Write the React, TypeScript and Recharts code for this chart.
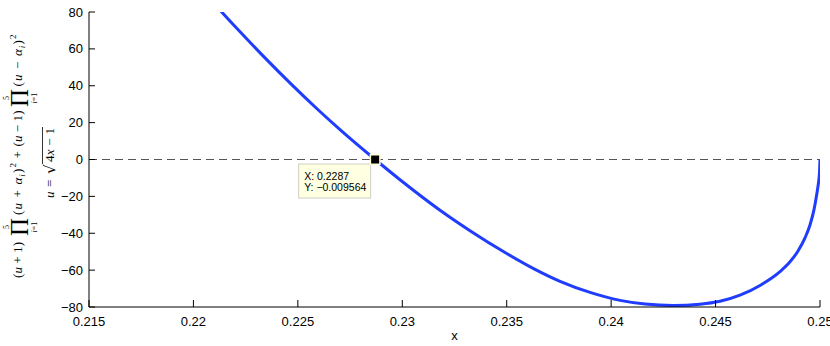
import React from 'react';
import { LineChart, Line, XAxis, YAxis, ReferenceLine, ReferenceDot, Label } from 'recharts';

const xValues = [0.220875, 0.221354, 0.222311, 0.223508, 0.224705, 0.225902, 0.227099, 0.2287, 0.229891, 0.231806, 0.233242, 0.235, 0.236355, 0.237552, 0.238988, 0.240425, 0.241622, 0.242963, 0.244254, 0.245212, 0.24617, 0.247127, 0.248085, 0.248564, 0.248947, 0.249282, 0.249521, 0.249713, 0.249856, 0.249928, 0.249976, 0.25];
const yValues = [86.2, 80, 68.35, 54.15, 40.59, 27.67, 15.38, -0.009564, -10.96, -27.5, -38.6, -51.0, -59.6, -66.1, -72.1, -76.4, -78.4, -79.2, -78.5, -76.9, -73.6, -68.3, -60.8, -55.5, -49.6, -42.5, -35.5, -27.2, -18, -12.5, -7, 0];
const xTicks = [0.215, 0.22, 0.225, 0.23, 0.235, 0.24, 0.245, 0.25];
const yTicks = [-80, -60, -40, -20, 0, 20, 40, 60, 80];
const tipX = 0.2287;
const tipY = -0.009564;
const xLabel = 'x';

const data = xValues.map((x, i) => ({ x, y: yValues[i] }));

const fmt = (v: number) => (v < 0 ? '\u2212' + String(-v) : String(v));

const SANS = 'Liberation Sans, Arial, Helvetica, sans-serif';
const SERIF = 'Liberation Serif, DejaVu Serif, Times New Roman, serif';

const Prod = ({ cx }: { cx: number }) => (
  <g>
    <text x={cx} y={6} fontSize={25} fontFamily={SERIF} textAnchor="middle">{'\u03A0'}</text>
    <text x={cx} y={-13.5} fontSize={8} fontFamily={SERIF} textAnchor="middle">5</text>
    <text x={cx} y={15} fontSize={8} fontFamily={SERIF} textAnchor="middle">
      <tspan fontStyle="italic">i</tspan>
      <tspan>=1</tspan>
    </text>
  </g>
);

const Factor = ({ x, sign }: { x: number; sign: string }) => (
  <text x={x} y={0} fontSize={13} fontFamily={SERIF} textLength={52} lengthAdjust="spacing">
    <tspan>(</tspan>
    <tspan fontStyle="italic">u</tspan>
    <tspan>{` ${sign} `}</tspan>
    <tspan fontStyle="italic">{'\u03B1'}</tspan>
    <tspan fontStyle="italic" fontSize={9} dy={3}>i</tspan>
    <tspan dy={-3}>)</tspan>
    <tspan fontSize={9} dy={-6}>2</tspan>
  </text>
);

const Linear = ({ x, sign }: { x: number; sign: string }) => (
  <text x={x} y={0} fontSize={13} fontFamily={SERIF} textLength={36} lengthAdjust="spacing">
    <tspan>(</tspan>
    <tspan fontStyle="italic">u</tspan>
    <tspan>{` ${sign} 1)`}</tspan>
  </text>
);

const YLabel = () => (
  <g fill="#000">
    <g transform="translate(22,159.5) rotate(-90)">
      <Linear x={-118.5} sign="+" />
      <Prod cx={-67.5} />
      <Factor x={-55.5} sign="+" />
      <text x={1} y={0} fontSize={13} fontFamily={SERIF}>+</text>
      <Linear x={13} sign={'\u2212'} />
      <Prod cx={61.5} />
      <Factor x={73} sign={'\u2212'} />
    </g>
    <g transform="translate(54,162) rotate(-90)">
      <text x={-36} y={0} fontSize={13} fontFamily={SERIF} fontStyle="italic">u</text>
      <text x={-25} y={0} fontSize={13} fontFamily={SERIF}>=</text>
      <text x={-12} y={1} fontSize={15} fontFamily="DejaVu Serif, serif">{'\u221A'}</text>
      <text x={0} y={0} fontSize={13} fontFamily={SERIF} textLength={34} lengthAdjust="spacing">
        <tspan>4</tspan>
        <tspan fontStyle="italic">x</tspan>
        <tspan>{' \u2212 1'}</tspan>
      </text>
      <line x1={-2} y1={-11.5} x2={35} y2={-11.5} stroke="#000" strokeWidth={0.8} />
    </g>
  </g>
);

const TipShape = (props: any) => {
  const { cx, cy } = props;
  if (cx == null || cy == null) return <g />;
  return (
    <g>
      <rect x={cx - 76.5} y={cy + 4.5} width={72} height={34} fill="#ffffe1" stroke="#cfcfc4" strokeWidth={1} />
      <text x={cx - 71} y={cy + 20} fontSize={10.5} fontFamily={SANS} fill="#000">{`X: ${tipX}`}</text>
      <text x={cx - 71} y={cy + 31.5} fontSize={10.5} fontFamily={SANS} fill="#000">{`Y: ${fmt(tipY)}`}</text>
      <rect x={cx - 5.5} y={cy - 5.5} width={11} height={11} fill="#ffffd8" />
      <rect x={cx - 4} y={cy - 4} width={8} height={8} fill="#000" />
    </g>
  );
};

const tickStyle = { fontSize: 13, fontFamily: SANS, fill: '#000' };

export default function App() {
  return (
    <div style={{ position: 'absolute', left: 0, top: 0, width: 830, height: 346, background: '#fff' }}>
      <LineChart width={830} height={346} data={data} margin={{ top: 12, right: 10, left: 0, bottom: 0 }}>
        <XAxis
          xAxisId="bottom"
          dataKey="x"
          type="number"
          domain={[0.215, 0.25]}
          ticks={xTicks}
          interval={0}
          allowDataOverflow
          height={39}
          tickSize={-7}
          tickMargin={17}
          tick={tickStyle}
          tickFormatter={(v: number) => String(v)}
          axisLine={{ stroke: '#000' }}
          tickLine={{ stroke: '#000' }}
        >
          <Label value={xLabel} position="insideBottom" offset={6.5} style={{ fontSize: 13, fontFamily: SANS, fill: '#000' }} />
        </XAxis>
        <XAxis
          xAxisId="top"
          orientation="top"
          dataKey="x"
          type="number"
          domain={[0.215, 0.25]}
          ticks={xTicks}
          interval={0}
          allowDataOverflow
          height={0}
          tickSize={-7}
          tick={false}
          axisLine={{ stroke: '#000' }}
          tickLine={{ stroke: '#000' }}
        />
        <YAxis
          yAxisId="left"
          type="number"
          domain={[-80, 80]}
          ticks={yTicks}
          interval={0}
          allowDataOverflow
          width={89}
          tickSize={-6}
          tickMargin={12}
          tick={tickStyle}
          tickFormatter={fmt}
          axisLine={{ stroke: '#000' }}
          tickLine={{ stroke: '#000' }}
        >
          <Label content={() => <YLabel />} />
        </YAxis>
        <YAxis
          yAxisId="right"
          orientation="right"
          type="number"
          domain={[-80, 80]}
          ticks={yTicks}
          interval={0}
          allowDataOverflow
          width={0}
          tickSize={-6}
          tick={false}
          axisLine={{ stroke: '#000' }}
          tickLine={{ stroke: '#000' }}
        />
        <ReferenceLine xAxisId="bottom" yAxisId="left" y={0} stroke="#555" strokeWidth={1} strokeDasharray="8 5" />
        <Line
          xAxisId="top"
          yAxisId="right"
          dataKey="y"
          stroke="none"
          dot={false}
          activeDot={false}
          isAnimationActive={false}
        />
        <Line
          xAxisId="bottom"
          yAxisId="left"
          dataKey="y"
          type="monotone"
          stroke="#1f3cff"
          strokeWidth={3}
          dot={false}
          activeDot={false}
          isAnimationActive={false}
        />
        <ReferenceDot xAxisId="bottom" yAxisId="left" x={tipX} y={tipY} r={5} shape={TipShape} />
      </LineChart>
    </div>
  );
}
